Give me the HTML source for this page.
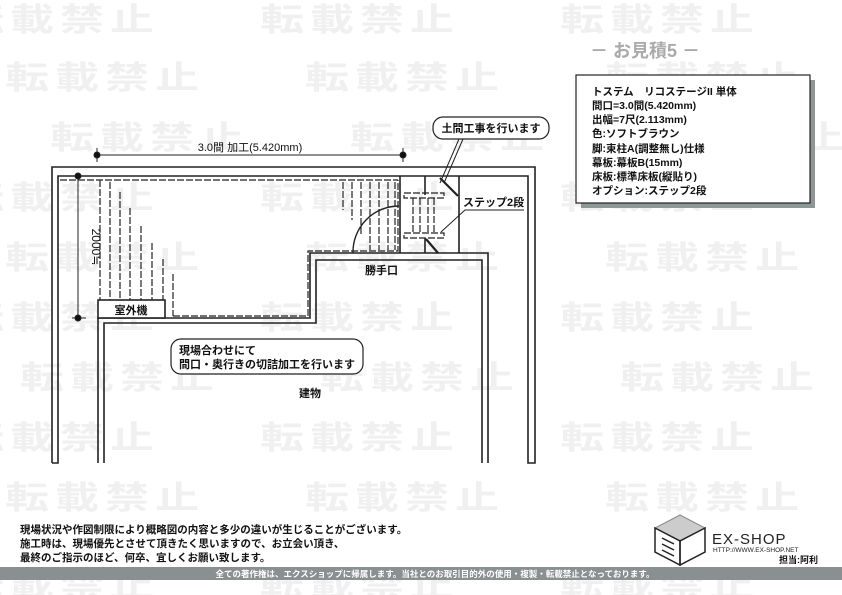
<!DOCTYPE html>
<html><head><meta charset="utf-8"><style>
body{margin:0;width:842px;height:595px;overflow:hidden;background:#fff;font-family:"Liberation Sans","Noto Sans CJK JP",sans-serif}
.wm{position:absolute;left:0;top:0;width:842px;height:595px;overflow:hidden}
.wm div{position:absolute;font-size:44px;font-weight:bold;color:#f0f0f0;white-space:nowrap;letter-spacing:6px;transform:scaleY(.72);transform-origin:0 0}
</style></head><body>
<div class="wm">
<div style="left:-40px;top:-6px">転載禁止　　転載禁止　　転載禁止　　転載禁止</div>
<div style="left:5px;top:52px">転載禁止　　転載禁止　　転載禁止　　転載禁止</div>
<div style="left:50px;top:112px">転載禁止　　転載禁止　　転載禁止　　転載禁止</div>
<div style="left:-40px;top:172px">転載禁止　　転載禁止　　転載禁止　　転載禁止</div>
<div style="left:5px;top:232px">転載禁止　　転載禁止　　転載禁止　　転載禁止</div>
<div style="left:-40px;top:292px">転載禁止　　転載禁止　　転載禁止　　転載禁止</div>
<div style="left:20px;top:352px">転載禁止　　転載禁止　　転載禁止　　転載禁止</div>
<div style="left:-40px;top:412px">転載禁止　　転載禁止　　転載禁止　　転載禁止</div>
<div style="left:5px;top:472px">転載禁止　　転載禁止　　転載禁止　　転載禁止</div>
<div style="left:-40px;top:560px">転載禁止　　転載禁止　　転載禁止　　転載禁止</div>
</div>
<svg width="842" height="595" style="position:absolute;left:0;top:0" font-family="Liberation Sans, Noto Sans CJK JP, sans-serif">
<g fill="none" stroke="#222" stroke-width="1.6">
<polyline points="52,463 52,167 535,167 535,463 528,463 528,176 58,176 58,463 52,463"/>
<polyline points="98,463 98,318 310,318 310,253 488,253 488,463"/>
<polyline points="104,463 104,323 316,323 316,260 482,260 482,463"/>
<polyline points="400,176 400,253"/>
<polyline points="459,176 459,253"/>
<line x1="425" y1="176" x2="425" y2="195"/>
<line x1="425" y1="238" x2="425" y2="253"/>
<line x1="440" y1="178" x2="458" y2="196" stroke-width="2.2"/>
<line x1="426" y1="239" x2="438" y2="253" stroke-width="2.2"/>
<path d="M353,253 A46,46 0 0 1 399,206" stroke-width="1.4"/>
<rect x="98" y="300" width="67" height="18" fill="#fff"/>
</g>
<g fill="none" stroke="#222" stroke-width="1.2" stroke-dasharray="7,2">
<polyline points="100,180 100,300"/>
<line x1="60" y1="180" x2="398" y2="180"/>
<polyline points="173,316 308,316 308,251 398,251 398,180"/>
<line x1="110" y1="182" x2="110" y2="300"/>
<line x1="120" y1="192" x2="120" y2="300"/>
<line x1="130" y1="208" x2="130" y2="300"/>
<line x1="141" y1="226" x2="141" y2="300"/>
<line x1="152" y1="243" x2="152" y2="300"/>
<line x1="163" y1="259" x2="163" y2="300"/>
<line x1="173" y1="274" x2="173" y2="316"/>
<line x1="343" y1="182" x2="343" y2="210"/>
<line x1="352" y1="182" x2="352" y2="220"/>
<line x1="361" y1="182" x2="361" y2="235"/>
<line x1="370" y1="182" x2="370" y2="250"/>
<line x1="379" y1="182" x2="379" y2="250"/>
<line x1="388" y1="182" x2="388" y2="250"/>
<line x1="395" y1="182" x2="395" y2="250"/>
<rect x="404" y="193" width="40" height="5"/>
<rect x="404" y="233" width="40" height="5"/>
<line x1="413" y1="198" x2="413" y2="233"/>
<line x1="420" y1="198" x2="420" y2="233"/>
<line x1="428" y1="198" x2="428" y2="233"/>
<line x1="434" y1="198" x2="434" y2="233"/>
</g>
<g stroke="#222" stroke-width="1" fill="#111">
<line x1="97" y1="155" x2="403" y2="155"/><line x1="97" y1="148" x2="97" y2="162"/><line x1="403" y1="148" x2="403" y2="162"/>
<circle cx="97" cy="155" r="3"/><circle cx="403" cy="155" r="3"/>
<line x1="78" y1="176" x2="78" y2="318"/><line x1="72" y1="318" x2="86" y2="318"/>
<circle cx="78" cy="176" r="3"/><circle cx="78" cy="318" r="3"/>
</g>
<text x="250" y="151" font-size="11" text-anchor="middle" fill="#111">3.0間 加工(5.420mm)</text>
<text transform="translate(92,247) rotate(90)" font-size="12" text-anchor="middle" fill="#111">2000≒</text>
<rect x="433" y="117" width="116" height="22" rx="10" fill="#fff" stroke="#222" stroke-width="1.2"/>
<text x="491" y="132" font-size="11" font-weight="bold" text-anchor="middle" fill="#111">土間工事を行います</text>
<line x1="459" y1="139" x2="440" y2="183" stroke="#222" stroke-width="1"/>
<line x1="463" y1="139" x2="444" y2="183" stroke="#222" stroke-width="1"/>
<text x="463" y="206" font-size="11" font-weight="bold" fill="#111">ステップ2段</text>
<polyline points="524,210 465,210 441,232" fill="none" stroke="#222" stroke-width="1"/>
<text x="365" y="274" font-size="11" font-weight="bold" fill="#111">勝手口</text>
<text x="131" y="314" font-size="11" font-weight="bold" text-anchor="middle" fill="#111">室外機</text>
<rect x="171" y="339" width="192" height="35" rx="10" fill="#fff" stroke="#222" stroke-width="1.2"/>
<text x="179" y="354" font-size="11" font-weight="bold" fill="#111">現場合わせにて</text>
<text x="179" y="368" font-size="11" font-weight="bold" fill="#111">間口・奥行きの切詰加工を行います</text>
<text x="310" y="397" font-size="11" font-weight="bold" text-anchor="middle" fill="#111">建物</text>
<text x="645" y="57" font-size="18" font-weight="bold" text-anchor="middle" fill="#aaa">－ お見積5 －</text>
<rect x="581" y="80" width="234" height="128" fill="#8d9796"/>
<rect x="576" y="75" width="234" height="128" fill="#fff" stroke="#222" stroke-width="1.2"/>
<g font-size="10.5" font-weight="bold" fill="#111">
<text x="592" y="95">トステム　リコステージII 単体</text>
<text x="592" y="109">間口=3.0間(5.420mm)</text>
<text x="592" y="123">出幅=7尺(2.113mm)</text>
<text x="592" y="137">色:ソフトブラウン</text>
<text x="592" y="152">脚:束柱A(調整無し)仕様</text>
<text x="592" y="166">幕板:幕板B(15mm)</text>
<text x="592" y="180">床板:標準床板(縦貼り)</text>
<text x="592" y="194">オプション:ステップ2段</text>
</g>
<g font-size="10.5" font-weight="bold" fill="#111">
<text x="20" y="533">現場状況や作図制限により概略図の内容と多少の違いが生じることがございます。</text>
<text x="20" y="547">施工時は、現場優先とさせて頂きたく思いますので、お立会い頂き、</text>
<text x="20" y="561">最終のご指示のほど、何卒、宜しくお願い致します。</text>
</g>
<rect x="0" y="567" width="842" height="13" fill="#8a8f8f"/>
<text x="435" y="577" font-size="8.5" font-weight="bold" text-anchor="middle" fill="#fff">全ての著作権は、エクスショップに帰属します。当社とのお取引目的外の使用・複製・転載禁止となっております。</text>
<polygon points="680,515 705,528 680,541 655,528" fill="#ccc" stroke="#888"/>
<g fill="none" stroke="#222" stroke-width="1.5">
<polygon points="655,528 680,541 680,565 655,552"/>
<polygon points="705,528 680,541 680,565 705,552"/>
<line x1="662" y1="538" x2="674" y2="544"/><line x1="662" y1="544" x2="674" y2="550"/><line x1="662" y1="550" x2="674" y2="556"/>
</g>
<text x="712" y="544" font-size="15" fill="#222" letter-spacing="1">EX-SHOP</text>
<text x="713" y="552" font-size="6.5" fill="#222">HTTP://WWW.EX-SHOP.NET</text>
<text x="818" y="563" font-size="9" font-weight="bold" text-anchor="end" fill="#111">担当:阿利</text>
</svg>
</body></html>
